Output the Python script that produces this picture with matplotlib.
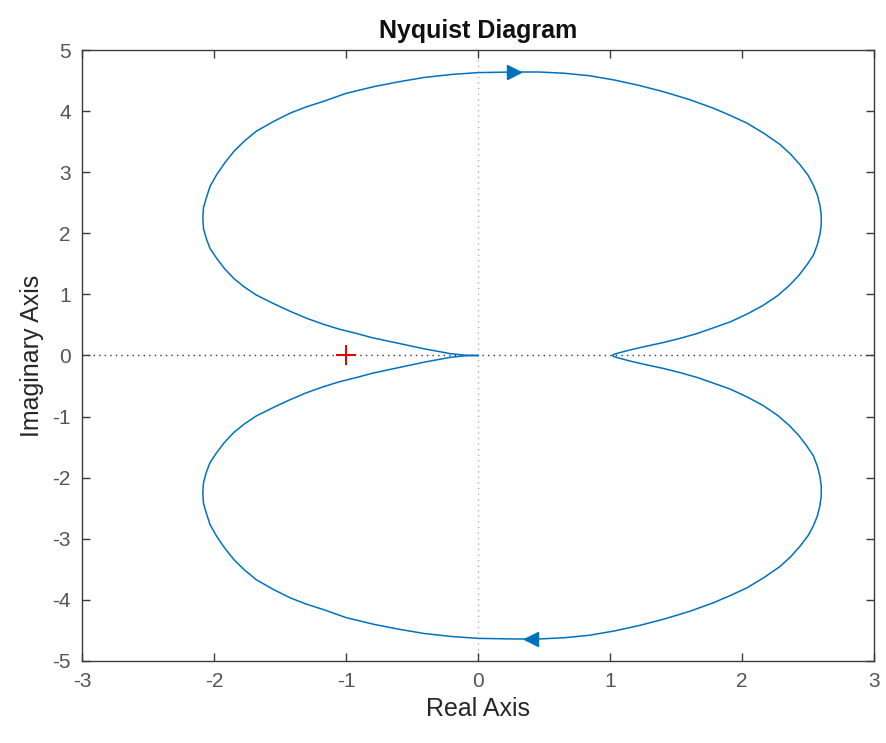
import matplotlib
matplotlib.use("Agg")
import matplotlib.pyplot as plt

# Upper branch of the Nyquist locus (real, imaginary), from the origin outwards
upper_re = [0.00, -0.10, -0.21, -0.26, -0.41, -0.54, -0.67, -0.80, -0.92, -1.05,
            -1.17, -1.30, -1.42, -1.55, -1.68, -1.77, -1.85, -1.92, -1.98, -2.03,
            -2.06, -2.08, -2.085, -2.08, -2.06, -2.03, -1.98, -1.92, -1.85, -1.77,
            -1.68, -1.55, -1.42, -1.30, -1.17, -1.00, -0.79, -0.60, -0.41, -0.20,
            0.00, 0.27, 0.46, 0.65, 0.84, 1.03, 1.22, 1.40, 1.60, 1.78,
            1.91, 2.04, 2.17, 2.29, 2.37, 2.44, 2.50, 2.54, 2.57, 2.59,
            2.60, 2.60, 2.59, 2.57, 2.54, 2.49, 2.43, 2.36, 2.27, 2.16,
            2.04, 1.91, 1.78, 1.66, 1.53, 1.40, 1.27, 1.15, 1.08, 1.03,
            1.02]
upper_im = [0.00, 0.005, 0.03, 0.05, 0.11, 0.17, 0.23, 0.29, 0.36, 0.43,
            0.51, 0.61, 0.72, 0.85, 0.99, 1.12, 1.26, 1.42, 1.59, 1.75,
            1.92, 2.08, 2.25, 2.42, 2.57, 2.77, 2.96, 3.15, 3.34, 3.51,
            3.67, 3.83, 3.97, 4.07, 4.16, 4.29, 4.40, 4.48, 4.55, 4.60,
            4.63, 4.64, 4.64, 4.62, 4.58, 4.51, 4.42, 4.32, 4.19, 4.05,
            3.93, 3.80, 3.63, 3.45, 3.29, 3.12, 2.95, 2.79, 2.63, 2.46,
            2.30, 2.14, 1.98, 1.81, 1.64, 1.48, 1.31, 1.15, 0.98, 0.82,
            0.68, 0.55, 0.45, 0.36, 0.28, 0.21, 0.15, 0.09, 0.05, 0.02,
            0.00]

# Lower branch is the complex conjugate of the upper one
lower_re = list(upper_re)
lower_im = [-v for v in upper_im]

# Direction arrows (position on the locus)
arrow_up = (0.27, 4.64)
arrow_down = (0.40, -4.64)

critical_point = (-1.0, 0.0)

xticks = [-3, -2, -1, 0, 1, 2, 3]
yticks = [-5, -4, -3, -2, -1, 0, 1, 2, 3, 4, 5]

blue = "#0072BD"
axis_col = "#3a3a3a"

plt.rcParams["font.family"] = ["Liberation Sans", "DejaVu Sans"]

fig = plt.figure(figsize=(8.86, 7.43), dpi=100)
ax = fig.add_axes([0.0926, 0.1104, 0.8939, 0.8223])

# reference lines through the origin
ax.axhline(0, color="#333333", lw=1.0, ls=(0, (1, 3)), zorder=1)
ax.axvline(0, color="#b0b0b0", lw=1.0, ls=(0, (1, 3)), zorder=1)

ax.plot(upper_re, upper_im, color=blue, lw=1.1, zorder=3,
        solid_joinstyle="round")
ax.plot(lower_re, lower_im, color=blue, lw=1.1, zorder=3,
        solid_joinstyle="round")

ax.plot(*arrow_up, marker=">", color=blue, ms=10, mec=blue, zorder=4)
ax.plot(*arrow_down, marker="<", color=blue, ms=10, mec=blue, zorder=4)

ax.plot(*critical_point, marker="+", color="#e00000", ms=14, mew=1.4, zorder=5)

ax.set_xlim(-3, 3)
ax.set_ylim(-5, 5)
ax.set_xticks(xticks)
ax.set_yticks(yticks)
ax.set_xticklabels([str(t) for t in xticks])
ax.set_yticklabels([str(t) for t in yticks])

ax.tick_params(direction="in", length=6, width=1, colors=axis_col,
               labelsize=15, top=True, right=True, labelcolor="#555555")
ax.tick_params(axis="x", pad=8)
ax.tick_params(axis="y", pad=8)
for s in ax.spines.values():
    s.set_color(axis_col)
    s.set_linewidth(1.0)

ax.set_xlabel("Real Axis", fontsize=18, color="#262626", labelpad=4)
ax.set_ylabel("Imaginary Axis", fontsize=18, color="#262626", labelpad=6)
ax.set_title("Nyquist Diagram", fontsize=18, fontweight="bold", color="#111111", pad=9)

fig.savefig("out.png", dpi=100)
